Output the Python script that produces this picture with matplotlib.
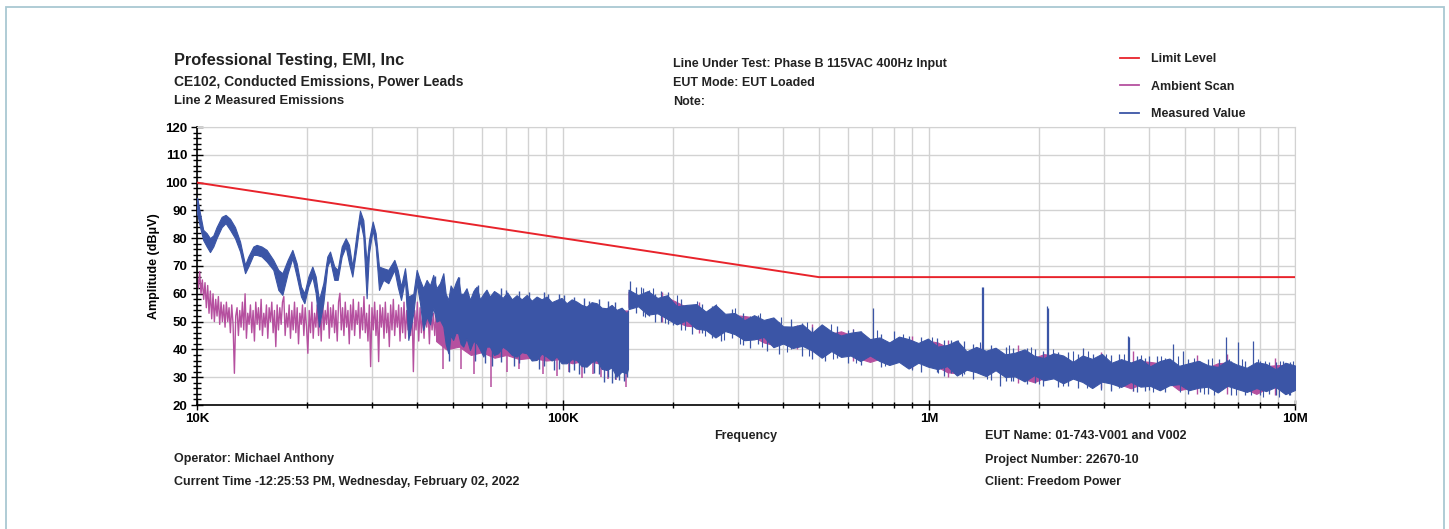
import matplotlib
matplotlib.use('Agg')
import matplotlib.pyplot as plt
import numpy as np
from matplotlib.lines import Line2D
from matplotlib.patches import Rectangle
from matplotlib.ticker import FixedLocator, FixedFormatter, MultipleLocator, NullFormatter, LogLocator

plt.rcParams['font.family'] = ['Liberation Sans', 'DejaVu Sans']
plt.rcParams['font.weight'] = 'bold'

RED = '#e8232b'
MAG = '#b5509f'
BLUE = '#3b55a6'

# limit line (Hz, dBuV)
limit_hz = [10e3, 500e3, 10e6]
limit_db = [100, 66, 66]

# measured value, 10k - 150k : envelope of the trace (kHz, low, high)
blue_a_khz = [10.0, 10.04, 10.19, 10.40, 10.63, 10.85, 11.08, 11.31, 11.68, 11.97,
              12.31, 12.70, 13.11, 13.53, 13.81, 14.25, 14.55, 15.02, 15.50, 16.16,
              16.68, 17.11, 17.69, 18.22, 18.72, 19.24, 19.65, 20.15, 20.66, 21.10,
              21.54, 22.14, 22.70, 23.09, 23.72, 24.23, 24.85, 25.48, 26.02, 26.57,
              27.30, 27.88, 28.47, 29.07, 29.50, 30.20, 30.77, 31.42, 32.29, 33.32,
              34.61, 35.34, 36.09, 37.01, 37.79, 39.00, 39.83, 40.67, 41.5, 42.4,
              43.3, 44.2, 45.1, 46.1, 47.1, 47.8, 48.6, 49.3, 50.1, 50.9,
              51.7, 52.5, 53.4, 54.5, 55.7, 56.9, 58.1, 59.3, 60.6, 61.8,
              63.1, 64.8, 66.5, 68.4, 70.4, 72.5, 74.7, 77.1, 79.6, 82.1,
              84.7, 87.4, 90.2, 93.1, 96.1, 99.1, 102.3, 105.6, 108.9, 112.4,
              116.0, 119.7, 123.6, 127.5, 131.6, 135.8, 140.1, 144.6, 149.3, 150.5]
blue_a_lo = [89, 88, 84, 79.3, 77, 75, 77, 80, 84, 85.4,
             83, 80, 75.2, 67.4, 69.8, 74, 74, 73.4, 71.6, 68.6,
             61.4, 59.6, 67.4, 72.8, 66.2, 59, 56.6, 62.6, 66.2, 60.2,
             48.2, 56.6, 69.8, 72.2, 65, 65, 73.4, 77, 71, 66.2,
             77, 86.5, 80.6, 58.4, 74.6, 83, 77, 61.4, 65, 63.8,
             68.6, 62.6, 57.8, 65, 43.4, 53, 63.8, 56.6, 47, 51.8,
             49, 55, 50, 50.6, 48.2, 42, 38.6, 45, 43.4, 46,
             45.8, 42, 41, 44, 39.8, 43, 42.2, 40, 37.4, 41,
             41, 38, 38.6, 41, 39.8, 38, 37.4, 39, 38.6, 36,
             36.2, 38.5, 37.4, 36, 37.4, 35, 35, 36.5, 36.2, 34,
             33.8, 35.5, 36.2, 33, 32.6, 33.5, 30.2, 32, 31.4, 33]
blue_a_hi = [94.5, 93.7, 89, 83, 81.8, 80, 81, 84, 87.7, 88.4,
             87, 84, 78.8, 70.4, 73.4, 77, 77.6, 77, 75.8, 72.2,
             68.6, 67.4, 72.2, 75.8, 71, 62.6, 60.2, 66.2, 69.8, 66.2,
             57.8, 63.8, 73.4, 75.2, 69.8, 68.6, 77, 80, 77.6, 69.8,
             81.8, 89.9, 86.5, 71, 79.3, 86, 81.8, 69.8, 69.2, 68.6,
             72.2, 68.6, 62.6, 69.2, 59, 60, 68.6, 64.9, 62, 65,
             63, 66.8, 62, 63.8, 67.4, 60, 57.8, 63, 61.4, 64,
             66, 60, 60, 62, 57.8, 61, 62.6, 58, 60, 61.5,
             59, 61, 60, 58.5, 60.5, 58, 59.5, 58, 59.6, 57.5,
             59, 58, 59, 57, 57.8, 58.5, 56.6, 58, 57.2, 56,
             55.4, 57, 56.6, 55, 54.8, 56, 54.2, 55, 53, 54]

# measured value, single sweep lines below 150k (kHz, low, high)
blue_a_spike_khz = [44.6, 48.9, 52.0, 58.7, 61.2, 63.8, 70.0, 73.5, 80.5, 85.9,
                    91.0, 94.5, 100.5, 104.0, 110.5, 118.0, 121.5, 129.5, 135.8, 142.5,
                    146.5, 149.8, 57.5, 67.5, 76.0, 88.5, 97.5, 107.0, 114.0, 125.5,
                    133.0, 138.5]
blue_a_spike_lo = [58, 36, 56, 56, 35, 34, 55, 34, 54, 33,
                   54, 32.5, 53, 32, 31, 52, 31.5, 28.4, 27.8, 29,
                   28.5, 30, 36, 35.5, 35, 34, 33, 32.5, 31.5, 31,
                   30, 29.5]
blue_a_spike_hi = [66.5, 48, 66, 63, 47, 46, 61.5, 45, 60.5, 44,
                   60, 43, 59.5, 44, 42, 57.5, 42, 40, 38, 40,
                   39, 41, 62, 62, 61, 60.5, 60, 59, 58.5, 58,
                   57.5, 57]

# measured value, 151k - 10M sweep (70 points), low / high envelope
hf_start_hz = 151e3
hf_stop_hz = 10e6
blue_hf_hi = [61.5, 59.5, 61, 58.5, 59.5, 55.5, 56, 56.3, 53.6, 56,
              52.8, 53.1, 50.5, 52.3, 50.6, 51.5, 48.3, 48.2, 49, 46,
              49, 46.5, 45, 46, 46.5, 43.7, 44.3, 42.5, 44.6, 43.7,
              42.3, 43.9, 41, 41.6, 43.2, 39.3, 40.9, 39.5, 40.6, 38.2,
              38.8, 40, 37.7, 36.9, 38.6, 37.8, 35.5, 37.8, 36.6, 38.4,
              35.2, 36.5, 35.3, 36.6, 33.9, 35.8, 36.7, 34.1, 35, 35.9,
              34.3, 33.7, 36.1, 34.5, 33.4, 35.4, 34.8, 32.8, 35.2, 34.2]
blue_hf_lo = [54.5, 55.5, 52.5, 53, 51, 49, 50.5, 47.5, 47, 44.3,
              46.6, 45.5, 43.3, 43.6, 44.5, 40.8, 42.1, 40.5, 41.3, 39.6,
              37, 39.4, 37.3, 37.8, 35.8, 37.8, 35.8, 34.4, 35.5, 33.1,
              35.2, 33.8, 32.9, 34, 30.6, 32.7, 31.8, 30.4, 32.5, 30.1,
              30.3, 28.5, 30.7, 28.9, 29.6, 27.8, 29.5, 28.3, 26.1, 28.4,
              27.7, 26.5, 28.3, 26.6, 26.9, 25.3, 27.1, 27.5, 25.3, 26.2,
              26.6, 24.5, 26.9, 25.8, 24.7, 26.1, 25, 26.5, 23.9, 25.4]

# measured value, narrow signals and extremes above 150k (kHz, low, high)
blue_hf_spike_khz = [152, 165, 185, 200, 240, 290, 340, 420, 560, 701,
                     800, 880, 1050, 1150, 1250, 1395, 1405, 1560, 1700, 1950,
                     2105, 2116, 2400, 2630, 2800, 3300, 3495, 3510, 4000, 4200,
                     4650, 4940, 5500, 6200, 6460, 7000, 7680, 8500, 9300,
                     158, 172, 178, 193, 210, 225, 255, 270, 310, 325,
                     360, 390, 450, 480, 520, 600, 650, 740, 950, 1100,
                     1320, 1480, 1620, 1850, 2050, 2250, 2550, 2950, 3150, 3700,
                     3900, 4400, 5100, 5800, 6700, 7300, 8000, 8900, 9700]
blue_hf_spike_lo = [56, 52, 50, 48.8, 46, 44, 42, 40, 37, 40,
                    35, 33.5, 32, 31.5, 31, 36, 36, 26.8, 28.5, 28,
                    34, 34, 27, 33, 26.5, 26, 31, 31, 25.5, 30,
                    30, 30, 24.5, 25, 29, 29, 29, 24, 24.5,
                    53, 52, 50, 49, 47, 45.5, 44, 43, 41.5, 40.5,
                    39.5, 38.5, 37.5, 36.5, 36, 35, 34.5, 33.5, 32, 30.5,
                    29.5, 29, 28.5, 27.5, 27, 26.5, 26, 25.5, 25, 24.5,
                    25, 24.5, 24, 24, 23.5, 23.5, 23.5, 23.5, 23.5]
blue_hf_spike_hi = [64.5, 62, 61, 55, 56.5, 54.5, 52.5, 51, 48.5, 54.8,
                    46.5, 45, 44, 43.5, 43, 62.5, 62.3, 34, 40.5, 40,
                    55.5, 54.8, 39, 40.5, 38.5, 38.5, 44.8, 44.5, 37.5, 37.5,
                    42, 39.6, 36, 36.5, 44.3, 42.7, 43.1, 35.5, 36,
                    62.5, 61.5, 60, 60.5, 58, 56, 55.5, 54, 53, 52,
                    51, 50, 49.5, 48, 48, 47, 46.5, 45.5, 44.5, 43.5,
                    42, 41.5, 41, 40.5, 39.5, 39, 38.5, 38, 38, 37.5,
                    37, 37, 36.5, 36.5, 36, 36, 36, 35.5, 35.5]

# measured value, short noise excursions at the band edges above 150k (kHz, low, high)
blue_hf_fuzz_khz = [163, 176, 205, 232, 262, 295, 345, 395, 465, 540,
                    620, 720, 850, 1020, 1200, 1380, 1650, 1900, 2180, 2480,
                    2720, 3050, 3400, 3800, 4300, 4800, 5300, 5950, 6600, 7150,
                    7900, 8300, 9100, 9850,
                    168, 190, 215, 245, 275, 305, 350, 410, 470, 545,
                    630, 760, 900, 1060, 1230, 1440, 1680, 2000, 2330, 2700,
                    3150, 3600, 4100, 4850, 5650, 6000, 6900, 7600, 8200, 9050,
                    9600]
blue_hf_fuzz_lo = [57, 56.5, 54.5, 52.5, 51, 50, 48, 46.5, 45, 43.5,
                   42.5, 41.5, 40.5, 39, 38, 37.5, 36.5, 35.5, 35, 34.5,
                   34, 33.5, 33, 33, 32.5, 32, 32, 31.5, 31.5, 31.5,
                   31, 31, 31, 31,
                   51.5, 49.5, 47, 45, 43.5, 42, 41, 39, 37.5, 36.5,
                   35, 34, 32.5, 31.5, 30.5, 29.5, 28.5, 27.5, 27, 26,
                   25.5, 25, 24.5, 24.5, 24, 23.5, 23.5, 23.5, 23, 23,
                   23.5]
blue_hf_fuzz_hi = [62.5, 62, 59.5, 57.5, 56.5, 55, 53, 51.5, 50, 49,
                   47.5, 47, 45.5, 44.5, 43.5, 42.5, 41.5, 41, 40, 39.5,
                   39.5, 38.5, 38.5, 38, 37.5, 37.5, 37, 37, 36.5, 36.5,
                   36.5, 36, 36, 36,
                   57, 55, 52, 50.5, 49, 47.5, 46, 44.5, 42.5, 41.5,
                   40.5, 39, 38, 37, 35.5, 34.5, 33.5, 33, 32, 31,
                   30.5, 30, 29.5, 29.5, 29, 29, 28.5, 28.5, 28.5, 28.5,
                   28.5]

# ambient scan, 10k - 45k sweep (180 points)
mag_lf_start_hz = 10e3
mag_lf_stop_hz = 45e3
mag_lf_db = [67, 62, 68, 60, 65, 58, 64, 55, 63, 53,
             61, 51, 60, 50, 58, 52, 59, 49, 57, 50,
             56, 48, 57, 50, 55, 46, 56, 49, 31.4, 52,
             55, 45, 54, 48, 57, 47, 60, 44, 53, 49,
             56, 46, 54, 43, 57, 49, 55, 47, 58, 45,
             53, 48, 56, 44, 55, 50, 57, 46, 54, 41,
             56, 47, 55, 49, 57, 59, 45, 53, 48, 56,
             44, 54, 47, 57, 46, 55, 42, 53, 49, 56,
             45, 55, 48, 38.6, 54, 46, 57, 44, 53, 48,
             56, 45, 55, 43, 58, 47, 54, 49, 57, 44,
             55, 48, 56, 46, 54, 43, 57, 60.2, 47, 55,
             45, 57, 48, 54, 42, 56, 47, 58, 45, 54,
             49, 57, 44, 55, 47, 59, 46, 53, 43, 56,
             33.8, 55, 47, 57, 45, 54, 35.6, 56, 48, 55,
             44, 57, 46, 53, 41, 56, 47, 58, 45, 54,
             48, 56, 43, 55, 46, 57, 44, 54, 47, 55,
             45, 56, 32, 54, 47, 57, 43, 55, 46, 53,
             44, 56, 48, 54, 42, 55, 47, 53, 45, 52]

# ambient scan, 45k - 150k envelope
mag_mid_khz = [45, 48, 52, 56, 60, 65, 70, 76, 82, 90, 98, 106, 115, 125, 136, 150.5]
mag_mid_lo = [43, 40, 41, 38, 39, 37, 38, 36.5, 37, 36, 36.5, 35, 36, 35, 34.5, 35]
mag_mid_hi = [56, 55, 56.5, 54, 55, 53.5, 54, 53, 53.5, 52.5, 53, 52, 53.5, 53, 54, 54]
mag_mid_spike_khz = [43, 46, 47, 52.5, 57, 63.4, 70.5, 76, 88, 96,
                     104, 113, 121, 127, 133, 140, 149]
mag_mid_spike_lo = [50, 50, 33, 33, 31, 26.6, 32, 33, 31, 30.5,
                    32, 29.6, 31, 30, 29.5, 29, 26.6]
mag_mid_spike_hi = [58.5, 57, 45, 42, 41, 40, 41, 42, 40, 40,
                    41, 40, 41, 40, 39, 38, 38]

# ambient scan, 151k - 10M sweep (70 points)
mag_hf_hi = [60.7, 58.7, 60.2, 57.7, 58.7, 57, 55.2, 55.5, 52.8, 55.2,
             52, 52.3, 52, 51.5, 49.8, 50.7, 47.5, 47.4, 48.2, 45.2,
             48.2, 45.7, 46.5, 45.2, 45.7, 42.9, 43.5, 41.7, 43.8, 42.9,
             41.5, 43.1, 42.5, 40.8, 42.4, 38.5, 40.1, 38.7, 39.8, 37.4,
             38, 39.2, 36.9, 38.3, 37.8, 37, 34.7, 37, 35.8, 37.6,
             34.4, 35.7, 34.5, 35.8, 35.5, 35, 35.9, 33.3, 34.2, 35.1,
             33.5, 35, 35.3, 33.7, 32.6, 34.6, 34, 34.3, 34.4, 33.4]
mag_hf_lo = [55.3, 56.3, 53.3, 53.8, 51.8, 49.8, 48.5, 48.3, 47.8, 45.1,
             47.4, 46.3, 44.1, 44.4, 42.5, 41.6, 42.9, 41.3, 42.1, 40.4,
             37.8, 40.2, 38.1, 38.6, 36.6, 35.5, 36.6, 35.2, 36.3, 33.9,
             36, 34.6, 33.7, 31.8, 31.4, 33.5, 32.6, 31.2, 33.3, 30.9,
             31.1, 29.3, 28.2, 29.7, 30.4, 28.6, 30.3, 29.1, 26.9, 29.2,
             28.5, 27.3, 26, 27.4, 27.7, 26.1, 27.9, 25.3, 26.1, 27,
             27.4, 25.3, 27.7, 26.6, 25.5, 24, 25.8, 27.3, 24.7, 26.2]
mag_hf_spike_khz = [187, 235, 435, 480, 620, 900, 1130, 1400, 1750, 2950,
                    3600, 5400, 6500, 8800]
mag_hf_spike_lo = [50, 46, 40, 39, 36, 33, 30, 31, 28, 26,
                   25, 24, 24, 23.5]
mag_hf_spike_hi = [60.8, 57, 48.8, 49, 47.5, 45, 43.5, 42, 41.5, 39,
                   39.5, 38, 38.5, 37]

xticks = [1e4, 1e5, 1e6, 1e7]
xtick_labels = ['10K', '100K', '1M', '10M']

W, H = 1449, 529
fig = plt.figure(figsize=(W / 100, H / 100), dpi=100)
ax = fig.add_axes([197 / W, 1 - 405 / H, (1295 - 197) / W, (405 - 127) / H])

# ambient (magenta)
f = np.geomspace(mag_lf_start_hz, mag_lf_stop_hz, len(mag_lf_db))
ax.plot(f, mag_lf_db, color=MAG, lw=1.0, zorder=2)
ax.fill_between(np.array(mag_mid_khz) * 1e3, mag_mid_lo, mag_mid_hi, color=MAG, lw=0.8, zorder=2)
ax.vlines(np.array(mag_mid_spike_khz) * 1e3, mag_mid_spike_lo, mag_mid_spike_hi, color=MAG, lw=1.1, zorder=2)
f = np.geomspace(hf_start_hz, hf_stop_hz, len(mag_hf_hi))
ax.fill_between(f, mag_hf_lo, mag_hf_hi, color=MAG, lw=0.8, zorder=2)
ax.vlines(np.array(mag_hf_spike_khz) * 1e3, mag_hf_spike_lo, mag_hf_spike_hi, color=MAG, lw=1.0, zorder=2)

# measured (blue)
ax.fill_between(np.array(blue_a_khz) * 1e3, blue_a_lo, blue_a_hi, color=BLUE, lw=0.8, zorder=3)
ax.vlines(np.array(blue_a_spike_khz) * 1e3, blue_a_spike_lo, blue_a_spike_hi, color=BLUE, lw=1.0, zorder=3)
f = np.geomspace(hf_start_hz, hf_stop_hz, len(blue_hf_hi))
ax.fill_between(f, blue_hf_lo, blue_hf_hi, color=BLUE, lw=0.8, zorder=3)
ax.vlines(np.array(blue_hf_spike_khz) * 1e3, blue_hf_spike_lo, blue_hf_spike_hi, color=BLUE, lw=0.9, zorder=3)
ax.vlines(np.array(blue_hf_fuzz_khz) * 1e3, blue_hf_fuzz_lo, blue_hf_fuzz_hi, color=BLUE, lw=0.8, zorder=3)

# limit
ax.plot(limit_hz, limit_db, color=RED, lw=1.4, zorder=4)

ax.set_xscale('log')
ax.set_xlim(1e4, 1e7)
ax.set_ylim(20, 120)
ax.xaxis.set_major_locator(FixedLocator(xticks))
ax.xaxis.set_major_formatter(FixedFormatter(xtick_labels))
ax.xaxis.set_minor_locator(LogLocator(base=10, subs=np.arange(2, 10)))
ax.xaxis.set_minor_formatter(NullFormatter())
ax.yaxis.set_major_locator(MultipleLocator(10))
ax.yaxis.set_minor_locator(MultipleLocator(2))

ax.xaxis.grid(True, which='both', color='#d2d2d2', lw=1.0)
ax.yaxis.grid(True, which='major', color='#d2d2d2', lw=1.0)
ax.set_axisbelow(True)

for s in ['top', 'right']:
    ax.spines[s].set_color('#d2d2d2')
for s in ['left', 'bottom']:
    ax.spines[s].set_color('black')
    ax.spines[s].set_linewidth(1.2)

ax.tick_params(axis='y', which='major', direction='inout', length=8, width=1, labelsize=9.5, pad=3)
ax.tick_params(axis='y', which='minor', direction='inout', length=6, width=1)
ax.tick_params(axis='x', which='major', direction='inout', length=7, width=1, labelsize=9.5, pad=2)
ax.tick_params(axis='x', which='minor', direction='inout', length=5, width=1)

ax.set_ylabel('Amplitude (dBμV)', fontsize=9, fontweight='bold')
ax.yaxis.set_label_coords((160 - 197) / (1295 - 197), 0.5)


def ftext(x, y, s, size, ha='left'):
    fig.text(x / W, 1 - y / H, s, fontsize=size, fontweight='bold', ha=ha, va='center', color='#222222')


ftext(174, 61, 'Professional Testing, EMI, Inc', 11.8)
ftext(174, 82, 'CE102, Conducted Emissions, Power Leads', 10)
ftext(174, 101, 'Line 2 Measured Emissions', 9.4)
ftext(673, 64, 'Line Under Test: Phase B 115VAC 400Hz Input', 9)
ftext(673, 83, 'EUT Mode: EUT Loaded', 9)
ftext(673, 102, 'Note:', 9)
ftext(746, 436, 'Frequency', 9, ha='center')
ftext(985, 436, 'EUT Name: 01-743-V001 and V002', 9)
ftext(174, 459, 'Operator: Michael Anthony', 9)
ftext(985, 460, 'Project Number: 22670-10', 9)
ftext(174, 482, 'Current Time -12:25:53 PM, Wednesday, February 02, 2022', 9)
ftext(985, 482, 'Client: Freedom Power', 9)

handles = [Line2D([], [], color=RED, lw=1.3),
           Line2D([], [], color=MAG, lw=1.3),
           Line2D([], [], color=BLUE, lw=1.3)]
leg = fig.legend(handles, ['Limit Level', 'Ambient Scan', 'Measured Value'],
                 loc='upper left', bbox_to_anchor=(1120 / W, 1 - 53 / H),
                 frameon=False, fontsize=9, handlelength=1.5, handletextpad=1.0,
                 labelspacing=1.24, borderpad=0, borderaxespad=0)
for t in leg.get_texts():
    t.set_fontweight('bold')
    t.set_color('#222222')

fig.patches.append(Rectangle((6 / W, -0.05), (1444 - 6) / W, 1 - 7 / H + 0.05,
                             transform=fig.transFigure, fill=False, ec='#a9c8d2', lw=1.3))

fig.savefig('out.png', dpi=100)
